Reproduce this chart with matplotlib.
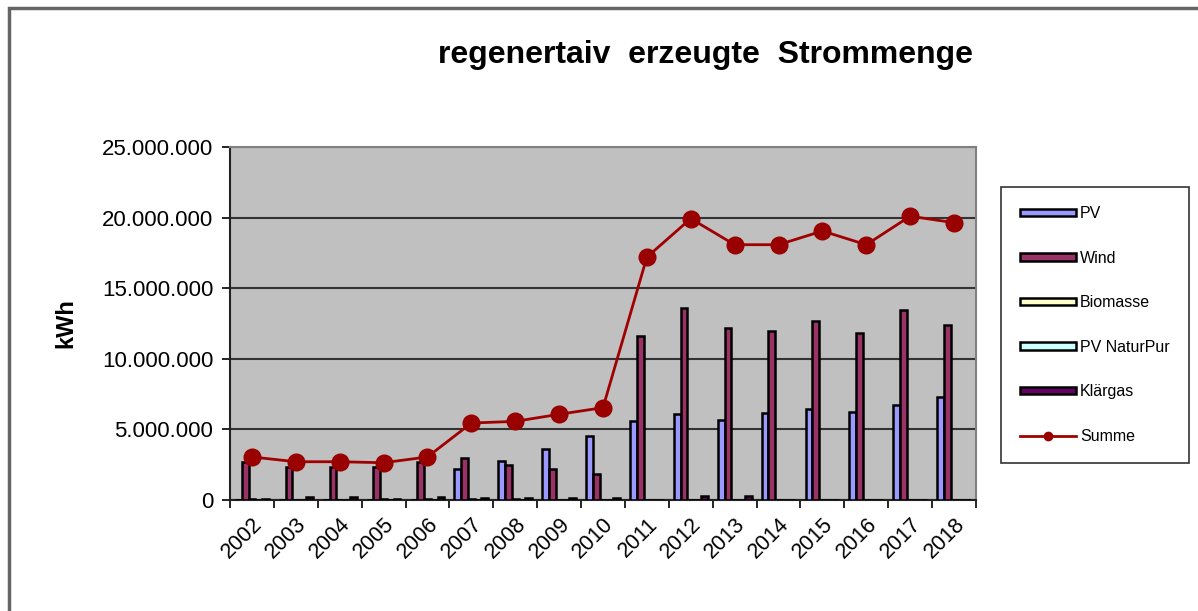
import numpy as np
import matplotlib.pyplot as plt

# Daten (kWh)
jahre = ['2002', '2003', '2004', '2005', '2006', '2007', '2008', '2009', '2010',
         '2011', '2012', '2013', '2014', '2015', '2016', '2017', '2018']
pv = [0, 0, 0, 0, 0, 2170000, 2760000, 3610000, 4550000,
      5590000, 6060000, 5660000, 6170000, 6460000, 6250000, 6720000, 7310000]
wind = [2690000, 2360000, 2360000, 2360000, 2690000, 2950000, 2480000, 2170000, 1820000,
        11600000, 13630000, 12190000, 11980000, 12660000, 11860000, 13440000, 12380000]
biomasse = [100000, 30000, 30000, 50000, 50000, 60000, 60000, 0, 0,
            0, 0, 0, 0, 0, 0, 0, 0]
pv_naturpur = [0, 0, 0, 0, 0, 0, 0, 0, 0,
               0, 0, 0, 0, 0, 0, 0, 0]
klaergas = [100000, 200000, 220000, 100000, 200000, 150000, 150000, 150000, 150000,
            0, 250000, 250000, 0, 0, 0, 0, 0]
summe = [3050000, 2710000, 2710000, 2640000, 3050000, 5450000, 5570000, 6070000, 6540000,
         17200000, 19930000, 18080000, 18080000, 19050000, 18080000, 20100000, 19640000]

serien = [('PV', pv, '#9999FF'),
          ('Wind', wind, '#993366'),
          ('Biomasse', biomasse, '#FFFFCC'),
          ('PV NaturPur', pv_naturpur, '#CCFFFF'),
          ('Klärgas', klaergas, '#660066')]

plt.rcParams['font.family'] = ['Liberation Sans', 'DejaVu Sans']

fig = plt.figure(figsize=(11.98, 6.11), dpi=100)
ax = fig.add_axes([230 / 1198, 1 - 500 / 611, (976 - 230) / 1198, (500 - 147) / 611])
ax.set_facecolor('#C0C0C0')

x = np.arange(len(jahre))
breite = 1 / 6.5
handles = []
for i, (name, werte, farbe) in enumerate(serien):
    b = ax.bar(x + (i - 2) * breite, werte, breite, color=farbe, edgecolor='black',
               linewidth=1.8, label=name, zorder=3)
    handles.append(b)

linie, = ax.plot(x, summe, color='#A00000', lw=2, marker='o', markersize=12,
                 markerfacecolor='#990000', markeredgecolor='#990000', label='Summe', zorder=4)
handles.append(linie)

ax.set_xlim(-0.5, len(jahre) - 0.5)
ax.set_ylim(0, 25000000)
ax.set_yticks(np.arange(0, 25000001, 5000000))
ax.set_yticklabels([f'{v:,.0f}'.replace(',', '.') for v in np.arange(0, 25000001, 5000000)])
ax.yaxis.grid(True, color='#333333', lw=1.5, zorder=1)
ax.set_axisbelow(True)

ax.set_xticks(x)
ax.set_xticklabels(jahre, rotation=45, ha='right', rotation_mode='anchor')
ax.set_xticks(np.arange(-0.5, len(jahre)), minor=True)
ax.tick_params(axis='x', which='major', length=0, pad=10, labelsize=15.5)
ax.tick_params(axis='x', which='minor', length=6, width=1.2, direction='out')
ax.tick_params(axis='y', length=6, width=1.2, direction='out', labelsize=16, pad=6)

for s in ['top', 'right']:
    ax.spines[s].set_color('#808080')
    ax.spines[s].set_linewidth(1.5)
for s in ['left', 'bottom']:
    ax.spines[s].set_color('#222222')
    ax.spines[s].set_linewidth(1.5)

ax.set_ylabel('kWh', fontsize=17, fontweight='bold', labelpad=18)
fig.text(706 / 1198, 1 - 55 / 611, 'regenertaiv  erzeugte  Strommenge',
         ha='center', va='center', fontsize=23, fontweight='bold')

leg = ax.legend(handles=handles, loc='upper left', bbox_to_anchor=(1001 / 1198, 1 - 187 / 611),
                bbox_transform=fig.transFigure, fontsize=11.5, frameon=True,
                fancybox=False, edgecolor='black', borderpad=1.2, labelspacing=1.85,
                handlelength=3.5, handleheight=0.35, handletextpad=0.25,
                borderaxespad=0)
leg.get_frame().set_linewidth(1.2)
for line in leg.get_lines():
    line.set_markersize(6)

# Rahmen des Diagrammbereichs
fig.patches.append(plt.Rectangle((9 / 1198, -0.2), 2, 1 - 8 / 611 + 0.2,
                                 transform=fig.transFigure, fill=False,
                                 edgecolor='#666666', lw=2.5))

fig.savefig('out.png', dpi=100)
